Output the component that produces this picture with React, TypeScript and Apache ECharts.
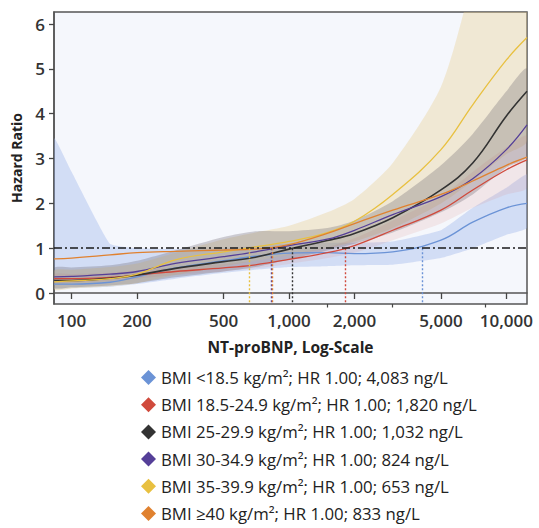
import React, { useEffect, useRef } from "react";
import * as echarts from "echarts";

// ---------- data ----------
const ntProBNP = [83, 100, 150, 200, 300, 500, 700, 1000, 1500, 2000, 3000, 5000, 7000, 10000, 12440];

const seriesNames = [
  "BMI <18.5 kg/m²; HR 1.00; 4,083 ng/L",
  "BMI 18.5-24.9 kg/m²; HR 1.00; 1,820 ng/L",
  "BMI 25-29.9 kg/m²; HR 1.00; 1,032 ng/L",
  "BMI 30-34.9 kg/m²; HR 1.00; 824 ng/L",
  "BMI 35-39.9 kg/m²; HR 1.00; 653 ng/L",
  "BMI ≥40 kg/m²; HR 1.00; 833 ng/L",
];
const seriesColors = ["#6b93d6", "#d04a3c", "#333333", "#553f98", "#e8c040", "#e0812f"];
const thresholds = [4083, 1820, 1032, 824, 653, 833];

const hrBmiUnder18 = [0.2, 0.2, 0.24, 0.36, 0.56, 0.72, 0.82, 0.89, 0.9, 0.88, 0.92, 1.18, 1.58, 1.9, 2.0];
const hrBmi18to25 = [0.32, 0.32, 0.35, 0.4, 0.48, 0.56, 0.63, 0.75, 0.9, 1.06, 1.4, 1.85, 2.3, 2.75, 2.97];
const hrBmi25to30 = [0.28, 0.28, 0.33, 0.4, 0.55, 0.7, 0.8, 0.98, 1.17, 1.33, 1.68, 2.3, 2.9, 3.95, 4.5];
const hrBmi30to35 = [0.36, 0.37, 0.42, 0.48, 0.66, 0.81, 0.92, 1.06, 1.2, 1.4, 1.75, 2.15, 2.55, 3.2, 3.75];
const hrBmi35to40 = [0.25, 0.27, 0.32, 0.42, 0.74, 0.92, 1.03, 1.15, 1.35, 1.6, 2.2, 3.2, 4.2, 5.2, 5.7];
const hrBmiOver40 = [0.76, 0.78, 0.85, 0.9, 0.93, 0.96, 0.98, 1.08, 1.33, 1.55, 1.85, 2.2, 2.5, 2.85, 3.03];
const seriesValues = [hrBmiUnder18, hrBmi18to25, hrBmi25to30, hrBmi30to35, hrBmi35to40, hrBmiOver40];

// confidence bands (lower / upper)
const blueLo = [0.1, 0.11, 0.14, 0.2, 0.32, 0.45, 0.52, 0.58, 0.6, 0.62, 0.63, 0.78, 1.0, 1.3, 1.45];
const blueHi = [3.45, 2.7, 1.1, 1.0, 0.98, 1.0, 1.05, 1.1, 1.12, 1.12, 1.15, 1.4, 1.9, 2.35, 2.65];
const yellowLo = [0.08, 0.1, 0.15, 0.22, 0.4, 0.6, 0.72, 0.85, 1.0, 1.15, 1.45, 2.0, 2.5, 3.1, 3.4];
const yellowHi = [0.5, 0.52, 0.58, 0.66, 0.9, 1.2, 1.35, 1.5, 1.8, 2.1, 2.9, 4.6, 7.0, 9.5, 11];
const redLo = [0.22, 0.23, 0.27, 0.32, 0.4, 0.48, 0.55, 0.65, 0.78, 0.9, 1.18, 1.55, 1.9, 2.2, 2.35];
const redHi = [0.42, 0.42, 0.45, 0.5, 0.57, 0.65, 0.72, 0.86, 1.02, 1.22, 1.62, 2.15, 2.7, 3.25, 3.5];
const grayLo = [0.12, 0.13, 0.17, 0.22, 0.35, 0.48, 0.58, 0.75, 0.95, 1.1, 1.35, 1.8, 2.2, 2.8, 3.05];
const grayHi = [0.56, 0.57, 0.62, 0.72, 0.95, 1.25, 1.38, 1.38, 1.45, 1.62, 2.05, 2.85, 3.55, 4.5, 5.0];

const xTicks = [100, 200, 500, 1000, 2000, 5000, 10000];
const xMinorTicks = [1500, 3000, 8000];
const yTicks = [0, 1, 2, 3, 4, 5, 6];
const xRange = [82.9, 12440];
const yRange = [-0.245, 6.27];

const FONT = "'Open Sans', 'Noto Sans', sans-serif";

export default function App() {
  const ref = useRef<HTMLDivElement>(null);

  useEffect(() => {
    if (!ref.current) return;
    const chart = echarts.init(ref.current, null, { renderer: "svg" });
    const lx = (n: number) => Math.log10(n);

    const bands = [
      { lo: blueLo, hi: blueHi, color: "rgba(150,175,232,0.36)", smooth: 0.12 },
      { lo: yellowLo, hi: yellowHi, color: "rgba(232,205,140,0.36)", smooth: 0.25 },
      { lo: redLo, hi: redHi, color: "rgba(220,130,120,0.14)", smooth: 0.25 },
      { lo: grayLo, hi: grayHi, color: "rgba(105,100,108,0.30)", smooth: 0.25 },
    ];

    const bandSeries: any = {
      type: "custom",
      name: "bands",
      coordinateSystem: "cartesian2d",
      clip: true,
      silent: true,
      z: 1,
      data: bands.map((_, i) => [lx(xTicks[0]), i]),
      encode: { x: 0, y: 1 },
      renderItem: (params: any, api: any) => {
        const b = bands[params.dataIndex];
        const upper = ntProBNP.map((n, i) => api.coord([lx(n), b.hi[i]]));
        const lower = ntProBNP.map((n, i) => api.coord([lx(n), b.lo[i]])).reverse();
        return {
          type: "polygon",
          shape: { points: upper.concat(lower), smooth: b.smooth },
          style: { fill: b.color, stroke: "none" },
        };
      },
    };

    const lineSeries = seriesNames.map((name, k) => {
      const markData: any[] = [
        [
          { coord: [lx(thresholds[k]), 1] },
          { coord: [lx(thresholds[k]), yRange[0]] },
        ],
      ];
      if (k === 2) {
        markData.push({
          yAxis: 1,
          lineStyle: { color: "#1a1a1a", type: [8, 3, 2, 3], width: 1.6 },
        });
      }
      return {
        type: "line",
        name,
        data: ntProBNP.map((n, i) => [lx(n), seriesValues[k][i]]),
        smooth: 0.4,
        symbol: "none",
        z: 3,
        color: seriesColors[k],
        lineStyle: { color: seriesColors[k], width: k === 2 ? 1.6 : 1.3 },
        markLine: {
          silent: true,
          symbol: "none",
          label: { show: false },
          lineStyle: { color: seriesColors[k], type: [2, 2], width: 1.4 },
          data: markData,
          z: 4,
        },
      };
    });

    chart.setOption({
      animation: false,
      textStyle: { fontFamily: FONT },
      grid: {
        left: 54,
        top: 12,
        width: 473,
        height: 292,
        show: true,
        backgroundColor: "#f5f7fc",
        borderColor: "#555",
        borderWidth: 1.5,
        containLabel: false,
        outerBoundsMode: "none",
      },
      legend: {
        data: seriesNames,
        orient: "vertical",
        left: 136,
        top: 364,
        height: 220,
        icon: "diamond",
        itemWidth: 15,
        itemHeight: 15,
        itemGap: 10.2,
        selectedMode: false,
        textStyle: { fontSize: 16.8, color: "#222", fontFamily: FONT },
      },
      xAxis: [
        {
          type: "value",
          min: lx(xRange[0]),
          max: lx(xRange[1]),
          name: "NT-proBNP, Log-Scale",
          nameLocation: "middle",
          nameGap: 35,
          nameTextStyle: { fontSize: 15.5, fontWeight: 700, color: "#222", fontFamily: FONT },
          axisLine: { show: true, lineStyle: { color: "#555", width: 1.5 } },
          splitLine: { show: false },
          axisTick: {
            show: true,
            inside: false,
            length: 6,
            lineStyle: { color: "#444", width: 1.3 },
            customValues: xTicks.map(lx),
          },
          axisLabel: {
            customValues: xTicks.map(lx),
            formatter: (v: number) => Math.round(Math.pow(10, v)).toLocaleString("en-US"),
            fontSize: 17,
            fontWeight: 600,
            color: "#333",
            margin: 8,
            fontFamily: FONT,
          },
        },
        {
          type: "value",
          position: "bottom",
          min: lx(xRange[0]),
          max: lx(xRange[1]),
          axisLine: { show: false },
          splitLine: { show: false },
          axisTick: {
            show: true,
            inside: false,
            length: 3.5,
            lineStyle: { color: "#444", width: 1.2 },
            customValues: xMinorTicks.map(lx),
          },
          axisLabel: { show: false },
        },
      ],
      yAxis: {
        type: "value",
        min: yRange[0],
        max: yRange[1],
        name: "Hazard Ratio",
        nameLocation: "middle",
        nameGap: 31,
        nameTextStyle: { fontSize: 14, fontWeight: 700, color: "#222", fontFamily: FONT },
        axisLine: { show: true, lineStyle: { color: "#555", width: 1.5 } },
        splitLine: { show: false },
        axisTick: {
          show: true,
          inside: false,
          length: 5,
          lineStyle: { color: "#444", width: 1.3 },
          customValues: yTicks,
        },
        axisLabel: {
          customValues: yTicks,
          fontSize: 17,
          fontWeight: 600,
          color: "#333",
          margin: 9,
          fontFamily: FONT,
        },
      },
      series: [bandSeries, ...lineSeries],
    });

    return () => chart.dispose();
  }, []);

  return (
    <div
      ref={ref}
      style={{ position: "absolute", left: 0, top: 0, width: 539, height: 528 }}
    />
  );
}
